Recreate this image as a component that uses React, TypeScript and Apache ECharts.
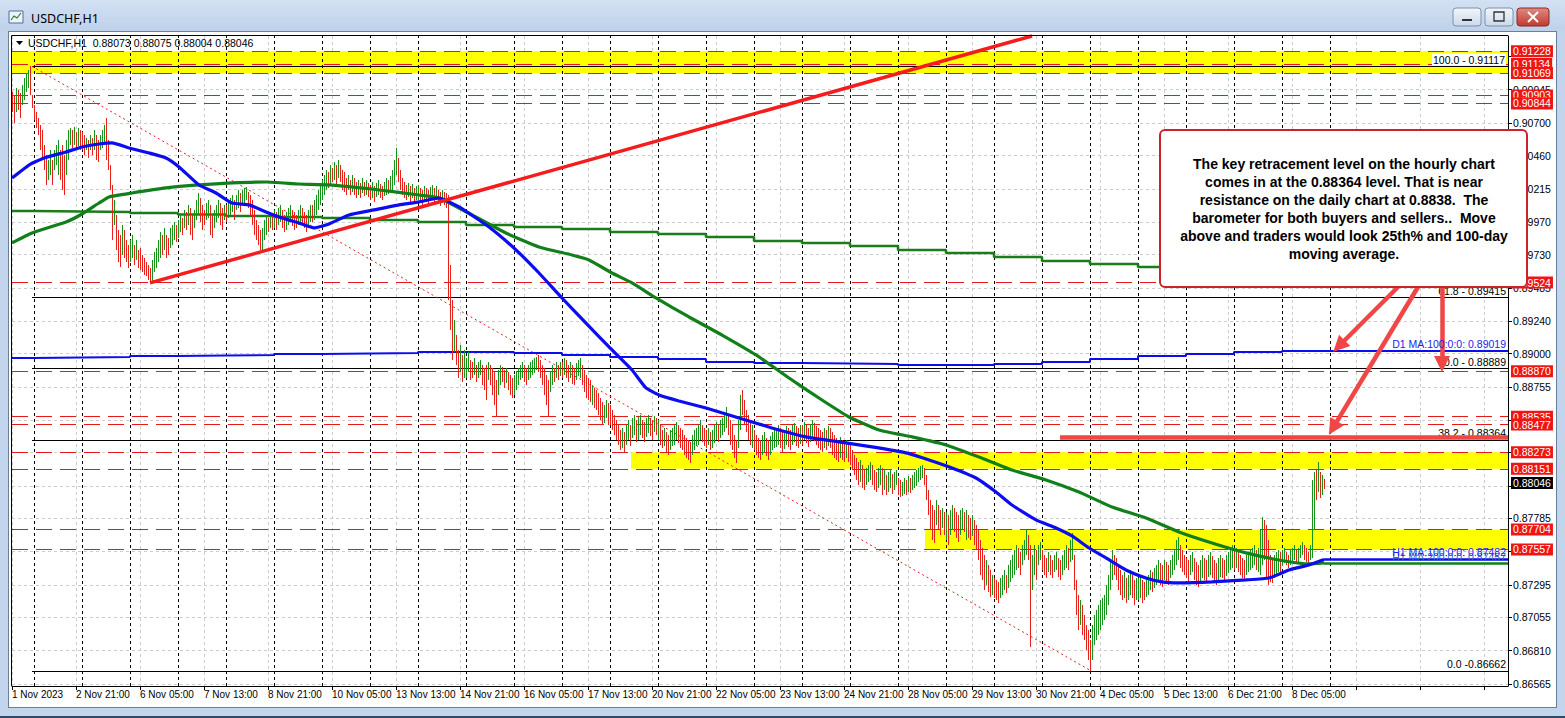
import React, { useEffect, useRef } from "react";
import * as echarts from "echarts";

// ---------------- data ----------------
const windowTitle = "USDCHF,H1";
const timeLabels = [
  "1 Nov 2023", "2 Nov 21:00", "6 Nov 05:00", "7 Nov 13:00", "8 Nov 21:00", "10 Nov 05:00",
  "13 Nov 13:00", "14 Nov 21:00", "16 Nov 05:00", "17 Nov 13:00", "20 Nov 21:00", "22 Nov 05:00",
  "23 Nov 13:00", "24 Nov 21:00", "28 Nov 05:00", "29 Nov 13:00", "30 Nov 21:00", "4 Dec 05:00",
  "5 Dec 13:00", "6 Dec 21:00", "8 Dec 05:00",
];
const barsPerLabel = 32;
// price grid of the right scale
const priceGrid = [
  0.86565, 0.8681, 0.87055, 0.87295, 0.8754, 0.87785, 0.88025, 0.8827, 0.8851, 0.88755,
  0.89, 0.8924, 0.89485, 0.8973, 0.8997, 0.90215, 0.9046, 0.907, 0.90945, 0.9119,
];
// grid prices whose labels are not covered by price tags
const priceTickLabels = [
  0.86565, 0.8681, 0.87055, 0.87295, 0.87785, 0.88755, 0.89, 0.8924, 0.89485, 0.8973,
  0.8997, 0.90215, 0.9046, 0.907, 0.90945,
];
// bar index where each trading day starts (H1 bars, first bar = 1 Nov 13:00)
const dayStart = [0, 11, 35, 59, 83, 107, 131, 155, 179, 203, 227, 251, 275, 299, 323, 347, 371, 395, 419, 443, 467, 491, 515, 539, 563, 587, 611, 635];
const nextSessionStart = 659;

// H1 bar highs / lows in 1e-5 CHF (points)
const barHighPts = [
  90928, 90906, 90958, 90943, 90921, 90980, 91032, 91069, 91091, 91117, 90906,
  90833, 90781, 90737, 90685, 90648, 90538, 90464, 90427, 90501, 90427, 90501, 90538, 90575, 90501, 90538, 90464, 90575, 90648, 90663, 90648, 90670, 90634, 90663, 90648,
  90634, 90611, 90589, 90575, 90611, 90589, 90648, 90611, 90575, 90611, 90648, 90685, 90737, 90575, 90390, 90243, 90132, 90022, 89911, 89875, 89948, 89911, 89838, 89801,
  89838, 89875, 89801, 89838, 89764, 89779, 89727, 89705, 89676, 89653, 89631, 89690, 89749, 89779, 89838, 89897, 89875, 89926, 89875, 89852, 89926, 89948, 89970, 89948,
  89985, 90022, 90000, 90059, 90044, 90096, 90074, 90022, 90059, 90132, 90184, 90147, 90096, 90059, 90110, 90132, 90096, 90022, 90059, 90096, 90132, 90110, 90074, 90096,
  90096, 90132, 90147, 90169, 90132, 90169, 90206, 90184, 90206, 90221, 90228, 90191, 90169, 90132, 90059, 89985, 89948, 89911, 89926, 89985, 90022, 90000, 90044, 90022,
  90059, 90044, 90074, 90096, 90059, 90022, 90044, 90074, 90096, 90059, 90044, 90022, 90059, 90096, 90074, 90044, 90022, 90059, 90096, 90096, 90132, 90169, 90206, 90243,
  90280, 90317, 90354, 90339, 90390, 90368, 90413, 90390, 90427, 90390, 90354, 90339, 90294, 90317, 90280, 90317, 90294, 90265, 90280, 90258, 90294, 90265, 90280, 90258,
  90243, 90265, 90236, 90258, 90280, 90250, 90236, 90265, 90294, 90280, 90309, 90354, 90427, 90516, 90442, 90354, 90294, 90265, 90243, 90258, 90236, 90250, 90221, 90236,
  90243, 90221, 90206, 90236, 90221, 90206, 90228, 90243, 90221, 90236, 90206, 90191, 90206, 90191, 90184, 90169, 89653, 89395, 89248, 89137, 89027, 89064, 88990, 89027,
  88968, 89012, 88953, 88938, 88968, 88916, 88938, 88953, 88916, 88894, 88916, 88938, 88916, 88894, 88865, 88806, 88880, 88916, 88902, 88880, 88894, 88865, 88843, 88820,
  88843, 88865, 88894, 88916, 88938, 88916, 88894, 88916, 88938, 88953, 88968, 88975, 88990, 88953, 88916, 88894, 88843, 88806, 88865, 88916, 88894, 88938, 88916, 88938,
  88938, 88968, 88953, 88916, 88938, 88916, 88894, 88931, 88953, 88968, 88916, 88880, 88843, 88820, 88806, 88769, 88747, 88732, 88710, 88673, 88644, 88622, 88658, 88636,
  88622, 88585, 88548, 88511, 88474, 88437, 88452, 88423, 88474, 88511, 88474, 88526, 88548, 88511, 88533, 88548, 88511, 88496, 88526, 88548, 88526, 88511, 88540, 88526,
  88511, 88474, 88437, 88452, 88423, 88401, 88437, 88452, 88474, 88496, 88474, 88452, 88437, 88401, 88378, 88363, 88349, 88401, 88437, 88452, 88474, 88511, 88474, 88452,
  88437, 88452, 88423, 88437, 88474, 88496, 88474, 88511, 88526, 88570, 88607, 88548, 88511, 88474, 88401, 88363, 88511, 88695, 88732, 88658, 88585, 88548, 88511, 88474,
  88437, 88401, 88378, 88363, 88401, 88423, 88378, 88363, 88393, 88423, 88437, 88452, 88474, 88452, 88423, 88437, 88467, 88452, 88437, 88474, 88489, 88467, 88452, 88474,
  88474, 88496, 88474, 88452, 88482, 88511, 88489, 88467, 88452, 88437, 88423, 88452, 88437, 88467, 88452, 88423, 88401, 88378, 88363, 88386, 88363, 88349, 88363, 88342,
  88327, 88290, 88253, 88231, 88201, 88216, 88179, 88142, 88157, 88179, 88201, 88179, 88142, 88128, 88157, 88179, 88157, 88142, 88106, 88128, 88142, 88113, 88128, 88142,
  88083, 88069, 88054, 88083, 88069, 88098, 88083, 88106, 88128, 88142, 88157, 88172, 88179, 88157, 88106, 87995, 87921, 87884, 87848, 87921, 87884, 87848, 87862, 87833,
  87833, 87811, 87848, 87884, 87862, 87833, 87811, 87848, 87862, 87833, 87848, 87811, 87789, 87811, 87774, 87737, 87700, 87626, 87567, 87516, 87479, 87442, 87405, 87369,
  87346, 87332, 87317, 87346, 87369, 87405, 87369, 87442, 87479, 87516, 87553, 87589, 87567, 87538, 87589, 87626, 87700, 87663, 87589, 87516, 87589, 87553, 87589, 87611,
  87553, 87516, 87494, 87538, 87516, 87479, 87516, 87538, 87494, 87479, 87516, 87553, 87589, 87567, 87626, 87678, 87516, 87332, 87221, 87184, 87147, 87074, 87000, 86963,
  86889, 87000, 87074, 87110, 87147, 87184, 87199, 87221, 87295, 87369, 87479, 87553, 87516, 87494, 87442, 87405, 87369, 87391, 87346, 87369, 87405, 87369, 87332, 87346,
  87346, 87369, 87332, 87317, 87346, 87369, 87405, 87391, 87420, 87442, 87479, 87457, 87442, 87479, 87464, 87442, 87479, 87516, 87553, 87626, 87648, 87589, 87553, 87516,
  87494, 87479, 87516, 87538, 87494, 87464, 87442, 87479, 87516, 87494, 87479, 87516, 87538, 87509, 87479, 87457, 87494, 87516, 87494, 87479, 87516, 87538, 87567, 87589,
  87553, 87567, 87538, 87516, 87494, 87479, 87516, 87538, 87553, 87567, 87589, 87553, 87567, 87700, 87796, 87774, 87737, 87626, 87516, 87479, 87516, 87538, 87553, 87538,
  87553, 87567, 87538, 87516, 87553, 87567, 87589, 87553, 87567, 87589, 87611, 87589, 87567, 87538, 87589, 88069, 88128, 88142, 88201, 88128, 88106, 88075,
];
const barLowPts = [
  90781, 90700, 90781, 90796, 90737, 90833, 90870, 90928, 90958, 90906, 90811,
  90722, 90663, 90611, 90501, 90427, 90354, 90243, 90280, 90317, 90243, 90354, 90390, 90317, 90280, 90206, 90169, 90317, 90427, 90538, 90516, 90538, 90501, 90530, 90501,
  90501, 90464, 90501, 90442, 90501, 90464, 90501, 90427, 90413, 90501, 90516, 90538, 90427, 90354, 90206, 89838, 89948, 89764, 89676, 89639, 89727, 89705, 89676, 89631,
  89676, 89705, 89653, 89690, 89631, 89617, 89602, 89580, 89573, 89543, 89521, 89528, 89602, 89631, 89676, 89705, 89727, 89764, 89705, 89727, 89779, 89801, 89838, 89823,
  89852, 89897, 89875, 89926, 89911, 89948, 89875, 89838, 89926, 89985, 90022, 89970, 89911, 89948, 89985, 90000, 89875, 89852, 89926, 89970, 90000, 89948, 89911, 89985,
  89970, 90000, 90022, 90044, 89985, 90059, 90074, 90044, 90096, 90110, 90132, 90074, 90022, 89948, 89875, 89838, 89801, 89764, 89764, 89838, 89875, 89897, 89926, 89911,
  89926, 89911, 89948, 89970, 89926, 89897, 89911, 89948, 89985, 89941, 89911, 89926, 89948, 89970, 89948, 89926, 89897, 89926, 89970, 89970, 89985, 90022, 90059, 90096,
  90132, 90169, 90206, 90221, 90243, 90265, 90280, 90243, 90294, 90265, 90206, 90191, 90169, 90206, 90169, 90191, 90169, 90147, 90169, 90147, 90184, 90162, 90169, 90155,
  90132, 90147, 90118, 90155, 90169, 90147, 90132, 90162, 90169, 90177, 90191, 90206, 90243, 90317, 90265, 90206, 90169, 90147, 90132, 90155, 90118, 90147, 90103, 90132,
  90132, 90110, 90096, 90132, 90118, 90088, 90125, 90147, 90110, 90132, 90103, 90088, 90110, 90096, 90074, 89395, 89174, 88953, 89012, 88916, 88820, 88865, 88791, 88820,
  88820, 88865, 88806, 88820, 88843, 88791, 88820, 88843, 88769, 88732, 88658, 88806, 88769, 88695, 88622, 88533, 88695, 88769, 88791, 88747, 88784, 88732, 88695, 88673,
  88695, 88732, 88769, 88806, 88820, 88791, 88769, 88806, 88820, 88843, 88857, 88880, 88865, 88820, 88769, 88695, 88622, 88533, 88717, 88769, 88791, 88820, 88806, 88835,
  88820, 88843, 88820, 88791, 88820, 88776, 88769, 88806, 88835, 88820, 88769, 88717, 88673, 88658, 88644, 88622, 88599, 88585, 88548, 88511, 88474, 88489, 88526, 88474,
  88474, 88437, 88401, 88363, 88327, 88290, 88305, 88275, 88327, 88363, 88320, 88378, 88401, 88349, 88363, 88401, 88378, 88349, 88386, 88415, 88393, 88363, 88423, 88401,
  88363, 88327, 88305, 88320, 88275, 88253, 88290, 88320, 88327, 88363, 88342, 88305, 88290, 88253, 88231, 88216, 88194, 88253, 88290, 88320, 88327, 88363, 88349, 88320,
  88305, 88327, 88290, 88305, 88342, 88363, 88349, 88378, 88401, 88423, 88452, 88401, 88327, 88290, 88231, 88194, 88305, 88437, 88548, 88474, 88423, 88363, 88327, 88305,
  88290, 88253, 88231, 88216, 88253, 88275, 88246, 88216, 88253, 88290, 88305, 88312, 88327, 88305, 88275, 88298, 88327, 88312, 88290, 88327, 88349, 88320, 88305, 88334,
  88327, 88363, 88342, 88312, 88349, 88378, 88356, 88327, 88305, 88290, 88275, 88305, 88290, 88320, 88305, 88253, 88231, 88216, 88201, 88231, 88216, 88201, 88231, 88201,
  88179, 88142, 88106, 88069, 88032, 88054, 88010, 87995, 88032, 88054, 88069, 88032, 87995, 87980, 88010, 88032, 87958, 87995, 87958, 87980, 88010, 87965, 87995, 88032,
  87958, 87943, 87951, 87965, 87958, 87980, 87973, 87995, 88010, 88024, 88054, 88069, 88083, 88032, 87921, 87811, 87700, 87626, 87604, 87737, 87700, 87663, 87715, 87663,
  87626, 87589, 87663, 87700, 87685, 87641, 87611, 87663, 87700, 87685, 87626, 87641, 87626, 87656, 87589, 87553, 87479, 87369, 87332, 87258, 87295, 87243, 87206, 87221,
  87199, 87184, 87162, 87199, 87221, 87258, 87236, 87273, 87317, 87346, 87369, 87405, 87420, 87369, 87442, 87479, 87516, 87479, 86838, 87258, 87369, 87332, 87442, 87479,
  87405, 87369, 87346, 87391, 87369, 87346, 87391, 87405, 87354, 87332, 87369, 87405, 87420, 87405, 87464, 87479, 87258, 87074, 86963, 87000, 86926, 86889, 86816, 86742,
  86662, 86742, 86852, 86889, 86926, 86963, 87000, 87037, 87074, 87147, 87258, 87332, 87369, 87332, 87258, 87221, 87184, 87199, 87162, 87184, 87221, 87199, 87147, 87184,
  87184, 87199, 87162, 87184, 87206, 87221, 87258, 87243, 87273, 87295, 87332, 87295, 87280, 87332, 87317, 87295, 87346, 87369, 87405, 87442, 87479, 87420, 87391, 87369,
  87346, 87317, 87369, 87391, 87332, 87295, 87280, 87317, 87346, 87332, 87310, 87354, 87369, 87346, 87317, 87295, 87332, 87354, 87346, 87332, 87361, 87383, 87405, 87420,
  87405, 87420, 87391, 87369, 87346, 87332, 87369, 87391, 87405, 87420, 87442, 87405, 87391, 87369, 87442, 87479, 87346, 87295, 87317, 87310, 87346, 87369, 87391, 87383,
  87435, 87457, 87442, 87420, 87442, 87464, 87479, 87457, 87464, 87494, 87516, 87479, 87464, 87442, 87479, 87494, 87700, 87921, 87980, 87936, 87958, 88004,
];
// bar direction per day: + = up (close > open), - = down
const barDirByDay = [
  "--+--++++--",
  "-------++-+++---+++-+-+-", "--+-+-+--+++----+---+---",
  "++-+-------+++++-+--+++-", "++-+-+--+++---++--+++--+", "-+++-++-+++-------+++-+-", "+-++--+++---++---++-++++", "+++-+-+-+----+-+--+-+-+-",
  "-+-++--++-++++-----+-+-+", "+--+--++-+--+-----+--+-+", "++--+-++---+----++--+---", "+++++--+++++------++-+-+", "-+--+--+++-----+-----++-",
  "------+-++-++-++--++--+-", "+--+--++++-------+++++--", "-+-+++-++++-----++-----+", "----++--+++++--++--++--+", "-+--++-----+-+-----+--+-",
  "-----+--+++---++-+-++-++", "--++-+-++++++------+--+-", "+-++---++-+--+------+--+", "---+++-+++++--+++--++-++", "---+--++--+++-++---+----",
  "-+++++++++++-----+-++--+", "++--+++-+++--+--+++++---", "--++---++--++---++--++++", "-+----+++++-+++-----+++-", "++--+++-+++---+++-+-+-",
];
const lastBar = { open: 0.88073, high: 0.88075, low: 0.88004, close: 0.88046 };

// moving averages: [bar index, points]
const ma100H1: [number, number][] = [
  [0, 90294], [8.5, 90390], [16, 90442], [27, 90486], [35, 90523], [43.5, 90545], [50, 90553], [58.5, 90516], [68.5, 90479], [77, 90442],
  [83.5, 90376], [93.5, 90243], [102, 90184], [110, 90110], [118.5, 90096], [127, 90044], [135, 90000], [143.5, 89963], [151, 89926], [158.5, 89956],
  [168.5, 90022], [181, 90059], [193.5, 90096], [203.5, 90118], [213.5, 90147], [223.5, 90081], [238.5, 89933], [252, 89764], [263.5, 89594], [275, 89410],
  [287, 89225], [298.5, 89049], [310, 88879], [317, 88747], [323.5, 88695], [333.5, 88651], [347, 88599], [363.5, 88526], [380, 88452], [397, 88386],
  [413.5, 88349], [430, 88312], [447, 88268], [458.5, 88216], [470, 88157], [482, 88083], [492, 87980], [500, 87884], [512, 87774], [522, 87715],
  [530, 87656], [538.5, 87567], [547, 87494], [557, 87405], [567, 87346], [575, 87317], [583.5, 87310], [600, 87317], [617, 87332], [628.5, 87346],
  [638.5, 87405], [648.5, 87442], [656, 87482],
];
const ma200H1: [number, number][] = [
  [0, 89816], [10, 89889], [27, 89970], [35, 90029], [43.5, 90110], [48.5, 90155], [60, 90184], [77, 90221], [93.5, 90243], [110, 90258],
  [127, 90265], [143.5, 90250], [158.5, 90243], [183.5, 90206], [203.5, 90169], [213.5, 90147], [230, 90022], [247, 89889], [263.5, 89786], [280, 89727],
  [288.5, 89690], [300, 89594], [310, 89521], [322, 89410], [338.5, 89270], [355, 89137], [372, 88990], [388.5, 88820], [405, 88658], [418.5, 88533],
  [433.5, 88437], [450, 88386], [467, 88327], [483.5, 88238], [500, 88142], [517, 88069], [533.5, 87980], [550, 87869], [567, 87789], [583.5, 87685],
  [600, 87604], [617, 87531], [633.5, 87479], [648.5, 87450], [656, 87457],
];
// daily moving averages, one value per trading day (points)
const ma100D1 = [88968, 88971, 88975, 88983, 88986, 88990, 88997, 89001, 89005, 89012, 89012, 89005, 88990, 88975, 88961, 88938, 88931, 88927, 88924, 88916, 88916, 88924, 88938, 88961, 88983, 88997, 89012, 89019];
const ma200D1 = [90051, 90048, 90044, 90037, 90026, 90015, 90007, 90000, 89985, 89970, 89948, 89933, 89919, 89897, 89882, 89860, 89830, 89816, 89793, 89764, 89742, 89712, 89683, 89661, 89639, 89617, 89594, 89572];
const ma100D1Now = 0.89019;
const ma100H1Now = 0.87482;
const ma200H1Now = 0.87457;

const srLevels = [0.91228, 0.91134, 0.91069, 0.90903, 0.90844, 0.89524, 0.8887, 0.88535, 0.88477, 0.88273, 0.88151, 0.87704, 0.87557];
const fibLevels = [
  { text: "100.0 - 0.91117", value: 0.91117 },
  { text: "61.8 - 0.89415", value: 0.89415 },
  { text: "50.0 - 0.88889", value: 0.88889 },
  { text: "38.2 - 0.88364", value: 0.88364 },
  { text: "0.0 -0.86662", value: 0.86662 },
];
const fibHigh = { idx: 10, value: 0.91117 };
const fibLow = { idx: 539.5, value: 0.86662 };
const yellowZones = [
  { fromIdx: 0, low: 0.91069, high: 0.91228 },
  { fromIdx: 309.5, low: 0.88151, high: 0.88273 },
  { fromIdx: 456.5, low: 0.87557, high: 0.87704 },
];
const trendLine: [number, number][] = [[69, 0.89521], [510, 0.91341]];
const keyLevel = { fromIdx: 524, value: 0.88382 };
const arrowLines = [
  { from: [693, 0.89491], to: [663.5, 0.89056] },
  { from: [715, 0.89491], to: [715, 0.88924] },
  { from: [703, 0.89491], to: [660.5, 0.88452] },
];
const noteLines = [
  "The key retracement level on the hourly chart",
  "comes in at the 0.88364 level. That is near",
  "resistance on the daily chart at 0.8838.  The",
  "barometer for both buyers and sellers..  Move",
  "above and traders would look 25th% and 100-day",
  "moving average.",
];

// ---------------- chart ----------------
const X_MAX = 748;
const Y_MIN = 0.8655;
const Y_MAX = 0.91341;
const FONT = '"Liberation Sans", Arial, sans-serif';
const UP = "#16941a";
const DOWN = "#e8201a";
const RED_LEVEL = "#e31a1a";
const ARROW_RED = "#f04646";
const PREC = 6;
const NO_LINE = { color: "rgba(0,0,0,0)", width: 0 };
const pts = (p: number) => p / 1e5;

function buildOption() {
  const dirs = barDirByDay.join("");
  const bars = barHighPts.map((h, i) => [i, pts(barLowPts[i]), pts(h), dirs[i] === "+" ? 1 : 0]);
  const lastIdx = barHighPts.length - 1;

  const d1Series = (vals: number[], endIdx: number, endVal: number) => {
    const d = dayStart.map((s, k) => [s, pts(vals[k])]);
    d.push([endIdx, endVal]);
    return d;
  };

  const hidden = { type: "line", data: [], silent: true, showSymbol: false };

  return {
    animation: false,
    backgroundColor: "transparent",
    tooltip: { show: false },
    grid: { left: 12, top: 36, width: 1496, height: 650, containLabel: false },
    xAxis: {
      type: "value",
      min: 0,
      max: X_MAX,
      interval: barsPerLabel,
      axisLine: { onZero: false, lineStyle: { color: "#000", width: 1 } },
      axisTick: { show: true, length: 4, lineStyle: { color: "#000" } },
      axisLabel: {
        formatter: (v: number) => timeLabels[Math.round(v / barsPerLabel)] ?? "",
        align: "left",
        margin: 3,
        color: "#000",
        fontSize: 10,
        fontFamily: FONT,
        showMaxLabel: false,
        showMinLabel: true,
      },
      splitLine: { show: true, lineStyle: { color: "#cccccc", type: [3, 3], width: 1 } },
    },
    yAxis: {
      type: "value",
      position: "right",
      min: Y_MIN,
      max: Y_MAX,
      axisLine: { show: true, onZero: false, lineStyle: { color: "#000", width: 1 } },
      axisTick: { show: true, length: 4, customValues: priceGrid, lineStyle: { color: "#000" } },
      axisLabel: {
        customValues: priceTickLabels,
        formatter: (v: number) => v.toFixed(5),
        color: "#000",
        fontSize: 10.5,
        fontFamily: FONT,
        margin: 5,
      },
      splitLine: { show: false },
    },
    graphic: [
      // title bar
      { type: "rect", z: 100, shape: { x: 9, y: 11, width: 14, height: 12 }, style: { fill: "#eef3fb", stroke: "#4c6e9e", lineWidth: 1 } },
      { type: "polyline", z: 101, shape: { points: [[11, 20], [14, 16], [17, 18], [21, 13]] }, style: { stroke: "#2d7a2d", lineWidth: 1.2, fill: "none" } },
      { type: "text", z: 100, style: { text: windowTitle, x: 31, y: 18, fill: "#000", fontSize: 12.5, fontFamily: '"Noto Sans", sans-serif', verticalAlign: "middle" } },
      { type: "rect", z: 100, shape: { x: 1453, y: 8, width: 28, height: 18, r: 3 }, style: { fill: { type: "linear", x: 0, y: 0, x2: 0, y2: 1, colorStops: [{ offset: 0, color: "#f2f6fb" }, { offset: 1, color: "#cbd9ea" }] }, stroke: "#7d90aa", lineWidth: 1 } },
      { type: "line", z: 101, shape: { x1: 1462, y1: 20, x2: 1472, y2: 20 }, style: { stroke: "#333", lineWidth: 2 } },
      { type: "rect", z: 100, shape: { x: 1485, y: 8, width: 28, height: 18, r: 3 }, style: { fill: { type: "linear", x: 0, y: 0, x2: 0, y2: 1, colorStops: [{ offset: 0, color: "#f2f6fb" }, { offset: 1, color: "#cbd9ea" }] }, stroke: "#7d90aa", lineWidth: 1 } },
      { type: "rect", z: 101, shape: { x: 1494, y: 12, width: 10, height: 9 }, style: { fill: "none", stroke: "#333", lineWidth: 1.3 } },
      { type: "rect", z: 100, shape: { x: 1517, y: 8, width: 32, height: 18, r: 3 }, style: { fill: { type: "linear", x: 0, y: 0, x2: 0, y2: 1, colorStops: [{ offset: 0, color: "#e08a80" }, { offset: 1, color: "#c23a30" }] }, stroke: "#8a2a22", lineWidth: 1 } },
      { type: "line", z: 101, shape: { x1: 1528, y1: 12, x2: 1538, y2: 22 }, style: { stroke: "#fff", lineWidth: 2 } },
      { type: "line", z: 101, shape: { x1: 1538, y1: 12, x2: 1528, y2: 22 }, style: { stroke: "#fff", lineWidth: 2 } },
      // plot frame (left/top)
      { type: "polyline", z: 90, shape: { points: [[11.5, 686], [11.5, 35.5], [1508, 35.5]] }, style: { stroke: "#000", lineWidth: 1, fill: "none" } },
      // chart header
      { type: "polygon", z: 100, shape: { points: [[16, 41], [23, 41], [19.5, 45]] }, style: { fill: "#000" } },
      {
        type: "text",
        z: 100,
        style: {
          text: `USDCHF,H1  ${lastBar.open.toFixed(5)} ${lastBar.high.toFixed(5)} ${lastBar.low.toFixed(5)} ${lastBar.close.toFixed(5)}`,
          x: 28,
          y: 43,
          fill: "#000",
          fontSize: 10.5,
          fontFamily: FONT,
          verticalAlign: "middle",
        },
      },
      // annotation box
      { type: "rect", z: 110, shape: { x: 1160, y: 130, width: 367, height: 157, r: 5 }, style: { fill: "#fff", stroke: "#cc2229", lineWidth: 2 } },
      {
        type: "text",
        z: 111,
        style: {
          text: noteLines.join("\n"),
          x: 1344,
          y: 209,
          align: "center",
          verticalAlign: "middle",
          fill: "#000",
          fontSize: 14,
          fontWeight: "bold",
          fontFamily: FONT,
          lineHeight: 18,
        },
      },
    ],
    series: [
      // horizontal grid
      {
        ...hidden,
        name: "grid",
        markLine: {
          z: 1, silent: true, symbol: "none", precision: PREC, label: { show: false },
          lineStyle: { color: "#cccccc", type: [3, 3], width: 1 },
          data: priceGrid.map((v) => ({ yAxis: v })),
        },
      },
      // yellow zones
      {
        ...hidden,
        name: "zones",
        markArea: {
          z: 2, silent: true, itemStyle: { color: "#ffff00" },
          data: yellowZones.map((zn) => [{ coord: [zn.fromIdx, zn.low] }, { coord: [X_MAX, zn.high] }]),
        },
      },
      // period separators
      {
        ...hidden,
        name: "separators",
        markLine: {
          z: 3, silent: true, symbol: "none", precision: PREC, label: { show: false },
          lineStyle: { color: "#000", type: [3, 3], width: 1 },
          data: [...dayStart.slice(1), nextSessionStart].map((s) => ({ xAxis: s })),
        },
      },
      // support / resistance levels
      {
        ...hidden,
        name: "levels",
        markLine: {
          z: 4, silent: true, symbol: "none", precision: PREC,
          lineStyle: { color: RED_LEVEL, type: [16, 8], width: 1 },
          label: {
            show: true, position: "end", distance: 3, color: "#fff", backgroundColor: "#f01414",
            padding: [1, 2, 0, 2], fontSize: 10.5, lineHeight: 11, fontFamily: FONT,
          },
          data: srLevels.map((v) => ({ yAxis: v, label: { formatter: v.toFixed(5) } })),
        },
      },
      // fibonacci
      {
        ...hidden,
        name: "fibo",
        markLine: {
          z: 4, silent: true, symbol: "none", precision: PREC,
          lineStyle: { color: "#000", type: "solid", width: 1 },
          label: { show: true, position: "insideEndTop", distance: [2, 1], color: "#000", fontSize: 10.5, fontFamily: FONT },
          data: [
            ...fibLevels.map((f, k) => [
              {
                coord: [fibHigh.idx, f.value],
                label: k === 0 ? { formatter: f.text, backgroundColor: "#fff", padding: [1, 1, 0, 1] } : { formatter: f.text },
              },
              { coord: [X_MAX, f.value] },
            ]),
            [
              { coord: [fibHigh.idx, fibHigh.value], lineStyle: { color: "#e02020", type: [2, 3], width: 1 }, label: { show: false } },
              { coord: [fibLow.idx, fibLow.value] },
            ],
          ],
        },
      },
      // daily MAs
      {
        type: "line", name: "D1 MA 200", z: 5, silent: true, showSymbol: false, step: "end",
        lineStyle: { color: "#1a7d1a", width: 2.5 },
        data: d1Series(ma200D1, lastIdx + 1, pts(ma200D1[ma200D1.length - 1])),
      },
      {
        type: "line", name: "D1 MA 100", z: 5, silent: true, showSymbol: false, step: "end",
        lineStyle: { color: "#0c0cf0", width: 2 },
        data: d1Series(ma100D1, X_MAX, ma100D1Now),
      },
      // price bars
      {
        type: "custom",
        name: "USDCHF H1",
        z: 6,
        silent: true,
        clip: true,
        progressive: 0,
        encode: { x: 0, y: [1, 2] },
        data: bars,
        renderItem: (_params: any, api: any) => {
          const i = api.value(0);
          const top = api.coord([i, api.value(2)]);
          const bot = api.coord([i, api.value(1)]);
          const x = Math.round(top[0]);
          const y1 = Math.round(top[1]);
          const y2 = Math.max(Math.round(bot[1]), y1 + 1);
          return {
            type: "rect",
            shape: { x, y: y1, width: 1, height: y2 - y1 },
            style: { fill: api.value(3) ? UP : DOWN },
          };
        },
      },
      // hourly MAs
      {
        type: "line", name: "H1 MA 200", z: 7, silent: true, showSymbol: false, smooth: 0.15,
        lineStyle: { color: "#12801a", width: 3.2 },
        data: ma200H1.map(([i, p]) => [i, pts(p)]),
      },
      {
        type: "line", name: "H1 MA 100", z: 7, silent: true, showSymbol: false, smooth: 0.15,
        lineStyle: { color: "#0c0cf0", width: 3.2 },
        data: ma100H1.map(([i, p]) => [i, pts(p)]),
      },
      {
        ...hidden,
        name: "H1 MA now",
        markLine: {
          z: 8, silent: true, symbol: "none", precision: PREC,
          label: { show: true, position: "insideEndTop", fontSize: 10.5, fontFamily: FONT },
          data: [
            [
              { coord: [lastIdx, ma200H1Now], lineStyle: { color: "#12801a", width: 2.5, type: "solid" }, label: { formatter: `H1 MA:200:0:0: ${ma200H1Now.toFixed(5)}`, color: "#3a5fc0", distance: [2, 0] } },
              { coord: [X_MAX, ma200H1Now] },
            ],
            [
              { coord: [lastIdx, ma100H1Now], lineStyle: { color: "#0c0cf0", width: 2.5, type: "solid" }, label: { formatter: `H1 MA:100:0:0: ${ma100H1Now.toFixed(5)}`, color: "#2222ee", distance: [2, 2] } },
              { coord: [X_MAX, ma100H1Now] },
            ],
          ],
        },
      },
      // MA value tags
      {
        ...hidden,
        name: "D1 MA tag",
        markLine: {
          z: 9, silent: true, symbol: "none", precision: PREC,
          data: [{
            yAxis: ma100D1Now, lineStyle: NO_LINE,
            label: { show: true, position: "insideEndTop", distance: [2, 2], formatter: `D1 MA:100:0:0: ${ma100D1Now.toFixed(5)}`, color: "#2222ee", fontSize: 10.5, fontFamily: FONT },
          }],
        },
      },
      // rising trend line
      {
        ...hidden,
        name: "trend",
        markLine: {
          z: 8, silent: true, symbol: "none", precision: PREC, label: { show: false },
          lineStyle: { color: "#f41c1c", width: 3.5, type: "solid" },
          data: [[{ coord: trendLine[0] }, { coord: trendLine[1] }]],
        },
      },
      // key level line and arrows
      {
        ...hidden,
        name: "annotations",
        markLine: {
          z: 9, silent: true, symbol: ["none", "triangle"], symbolSize: 16, precision: PREC, label: { show: false },
          lineStyle: { color: ARROW_RED, width: 4.5, type: "solid" },
          itemStyle: { color: ARROW_RED },
          data: [
            [{ coord: [keyLevel.fromIdx, keyLevel.value], symbol: "none" }, { coord: [X_MAX, keyLevel.value], symbol: "none" }],
            ...arrowLines.map((a) => [{ coord: a.from, symbol: "none" }, { coord: a.to, symbol: "triangle" }]),
          ],
        },
      },
      // current price tag
      {
        ...hidden,
        name: "price",
        markLine: {
          z: 9, silent: true, symbol: "none", precision: PREC,
          data: [{
            yAxis: lastBar.close, lineStyle: NO_LINE,
            label: {
              show: true, position: "end", distance: 3, formatter: lastBar.close.toFixed(5), color: "#fff",
              backgroundColor: "#000", padding: [1, 2, 0, 2], fontSize: 10.5, lineHeight: 11, fontFamily: FONT,
            },
          }],
        },
      },
    ],
  };
}

export default function App() {
  const ref = useRef<HTMLDivElement>(null);
  useEffect(() => {
    if (!ref.current) return;
    const chart = echarts.init(ref.current, undefined, { renderer: "svg", width: 1565, height: 718 });
    chart.setOption(buildOption() as any);
    return () => chart.dispose();
  }, []);
  return (
    <div
      style={{
        position: "absolute",
        left: 0,
        top: 0,
        width: 1565,
        height: 718,
        overflow: "hidden",
        background: "#c3d5ec",
      }}
    >
      <div
        style={{
          position: "absolute",
          left: 0,
          top: 0,
          width: 1565,
          height: 31,
          background: "linear-gradient(#d3e1f3, #bed1ea)",
        }}
      />
      <div
        style={{
          position: "absolute",
          left: 8,
          top: 31,
          width: 1547,
          height: 675,
          background: "#ffffff",
          border: "1px solid #6b7f99",
        }}
      />
      <div
        style={{
          position: "absolute",
          left: 0,
          top: 716,
          width: 1565,
          height: 2,
          background: "#2f4a68",
        }}
      />
      <div ref={ref} style={{ position: "absolute", left: 0, top: 0, width: 1565, height: 718 }} />
    </div>
  );
}
